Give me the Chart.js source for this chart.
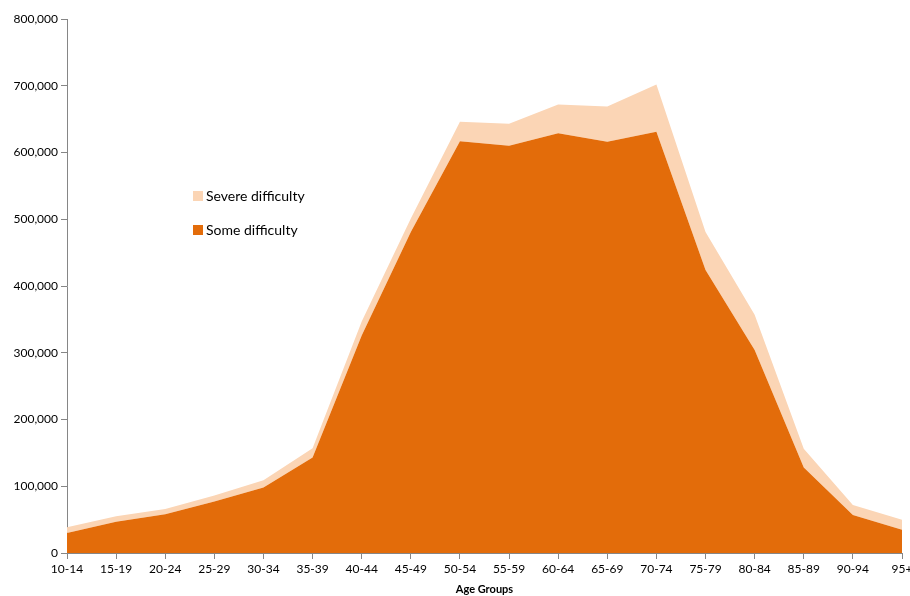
<!DOCTYPE html>
<html>
<head>
<meta charset="utf-8">
<script src="https://cdn.jsdelivr.net/npm/chart.js@4/dist/chart.umd.min.js"></script>
<style>
  html, body { margin: 0; padding: 0; background: #fff; }
  #wrap { width: 910px; height: 596px; position: relative; }
</style>
</head>
<body>
<div id="wrap"><canvas id="difficulty" width="910" height="596"></canvas></div>
<script>
/* Age groups and counts of people with difficulty */
var ageGroups = ['10-14', '15-19', '20-24', '25-29', '30-34', '35-39', '40-44', '45-49', '50-54',
                 '55-59', '60-64', '65-69', '70-74', '75-79', '80-84', '85-89', '90-94', '95+'];
var someDifficulty = [30000, 47000, 58000, 77000, 98000, 143000, 326000, 481000, 617000,
                      610000, 629000, 616000, 631000, 424000, 304000, 128000, 57000, 35000];
var severeDifficulty = [8500, 8000, 8000, 9000, 11000, 14000, 21000, 20000, 29000,
                        33000, 43000, 53000, 71000, 57000, 53000, 28000, 15000, 15000];
var yTicks = [0, 100000, 200000, 300000, 400000, 500000, 600000, 700000, 800000];

var colSome = '#E36C0A';
var colSevere = '#FBD5B5';
var axisGrey = '#868686';
var fontName = 'Lato, "Open Sans", sans-serif';

/* Legend drawn inside the plot area */
var insideLegend = {
    id: 'insideLegend',
    afterDraw: function (chart) {
        var ctx = chart.ctx;
        var area = chart.chartArea;
        var x = area.left + 126;
        var y = area.top + 172;
        var items = [
            { text: 'Severe difficulty', color: colSevere },
            { text: 'Some difficulty', color: colSome }
        ];
        ctx.save();
        ctx.font = '14px ' + fontName;
        ctx.textBaseline = 'middle';
        items.forEach(function (it, i) {
            var yy = y + i * 34;
            ctx.fillStyle = it.color;
            ctx.fillRect(x, yy, 10, 10);
            ctx.fillStyle = '#000';
            ctx.fillText(it.text, x + 13, yy + 5);
        });
        ctx.restore();
    }
};

var ctxDifficulty = document.getElementById('difficulty');

var chartDifficulty = new Chart(ctxDifficulty, {
    type: 'line',
    data: {
        labels: ageGroups,
        datasets: [
            {
                label: 'Some difficulty',
                data: someDifficulty,
                backgroundColor: colSome,
                borderWidth: 0,
                fill: 'origin',
                pointRadius: 0
            },
            {
                label: 'Severe difficulty',
                data: severeDifficulty,
                backgroundColor: colSevere,
                borderWidth: 0,
                fill: '-1',
                pointRadius: 0
            }
        ]
    },
    options: {
        responsive: false,
        maintainAspectRatio: false,
        animation: false,
        layout: { padding: { top: 19, right: 8, left: 0, bottom: 0 } },
        plugins: {
            legend: { display: false },
            tooltip: { enabled: false }
        },
        elements: { line: { tension: 0 } },
        scales: {
            x: {
                offset: false,
                grid: { drawOnChartArea: false, color: axisGrey, tickLength: 6 },
                border: { color: axisGrey },
                ticks: {
                    color: '#000',
                    font: { family: fontName, size: 12 },
                    maxRotation: 0,
                    autoSkip: false,
                    padding: 3
                },
                title: {
                    display: true,
                    text: 'Age Groups',
                    color: '#000',
                    font: { family: fontName, size: 11, weight: 'bold' },
                    padding: { top: 2, bottom: 0 }
                },
                afterFit: function (scale) {
                    scale.height = 43;
                    // let the last label run past the plot edge
                    scale.paddingRight = 0;
                    scale.paddingLeft = 0;
                }
            },
            y: {
                stacked: true,
                min: 0,
                max: 800000,
                afterBuildTicks: function (scale) {
                    scale.ticks = yTicks.map(function (v) { return { value: v }; });
                },
                grid: { drawOnChartArea: false, color: axisGrey, tickLength: 6 },
                border: { color: axisGrey },
                ticks: {
                    color: '#000',
                    font: { family: fontName, size: 12 },
                    padding: 3,
                    autoSkip: false,
                    callback: function (v) { return v.toLocaleString('en-US'); }
                },
                afterFit: function (scale) { scale.width = 67; }
            }
        }
    },
    plugins: [insideLegend]
});
</script>
</body>
</html>
